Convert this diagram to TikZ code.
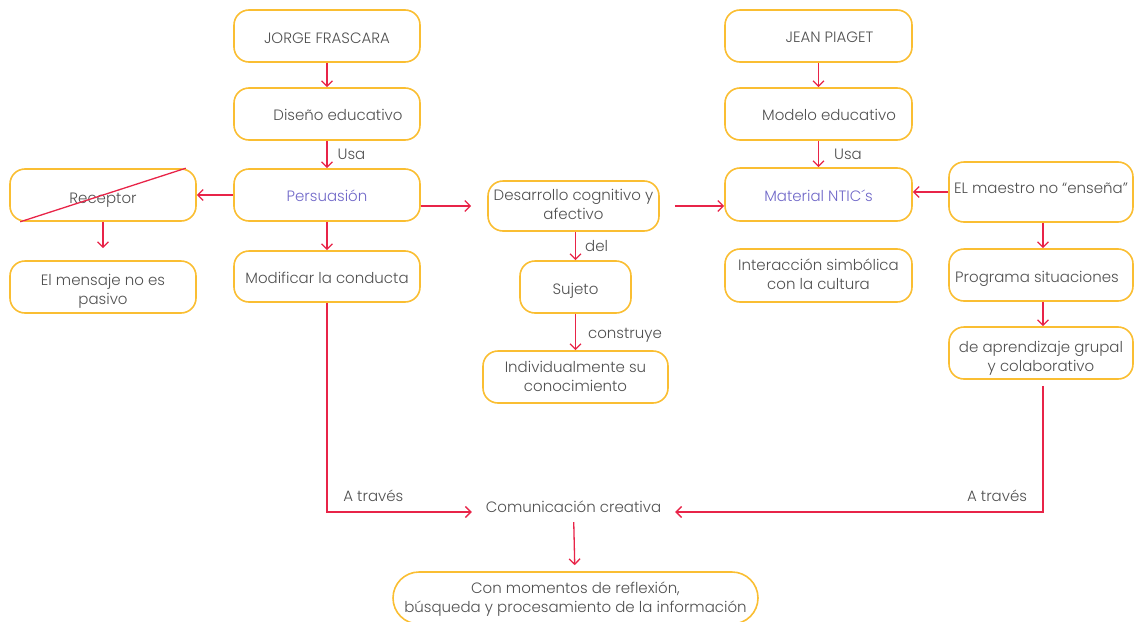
\documentclass[tikz,border=0pt]{standalone}
\usepackage{fontspec}
\setmainfont{Poppins Light}
\usetikzlibrary{arrows.meta}
\definecolor{boxc}{RGB}{250,190,50}
\definecolor{arr}{RGB}{232,36,72}
\definecolor{txt}{RGB}{80,80,80}
\definecolor{pur}{RGB}{112,104,200}
\begin{document}
\begin{tikzpicture}[x=1pt,y=-1pt,
  font=\fontsize{15}{19}\selectfont, text=txt,
  box/.style={draw=boxc, line width=1.6pt, rounded corners=15pt, minimum width=186pt, minimum height=52pt, align=center, inner sep=0pt, text height=14pt, text depth=0pt},
  off/.style={text height=#1, text depth=0pt},
  conn/.style={draw=arr, line width=1.3pt, -{Straight Barb[length=5.5pt,width=11pt,line width=1.3pt]}},
  elab/.style={text=txt, inner sep=0pt, anchor=west, xshift=#1},
  elab/.default=10pt
]
\useasboundingbox (0,0) rectangle (1134,621);
% left column
\node[box] (jf) at (327,36) {JORGE FRASCARA};
\node[box, off=12pt] (de) at (327,114) {\hspace{22pt}Diseño educativo};
\node[box, text=pur, off=13pt] (pe) at (327,195) {Persuasión};
\node[box, off=16pt] (re) at (103,195) {Receptor};
\node[box, off=34pt] (me) at (103,287) {El mensaje no es\\pasivo};
\node[box, minimum height=51pt, off=13pt] (mo) at (327,276.5) {Modificar la conducta};
% middle
\node[box, minimum width=171pt, minimum height=50pt, off=26pt] (dc) at (573.5,206) {Desarrollo cognitivo y\\afectivo};
\node[box, minimum width=111pt, off=14pt] (su) at (575.5,287) {Sujeto};
\node[box, minimum width=185pt, off=28pt] (in) at (575.5,377) {Individualmente su\\conocimiento};
% right
\node[box, minimum width=187pt, off=13pt] (jp) at (818.5,36) {\hspace{22pt}JEAN PIAGET};
\node[box, minimum width=187pt, off=12pt] (mo2) at (818.5,114) {\hspace{21pt}Modelo educativo};
\node[box, minimum width=187pt, minimum height=53pt, text=pur, off=13pt] (ma) at (818.5,194.5) {Material NTIC´s};
\node[box, minimum width=187pt, minimum height=53pt, off=27pt] (ic) at (818.5,275.5) {Interacción simbólica\\con la cultura};
\node[box, minimum width=184pt, minimum height=60pt, off=2pt] (em) at (1041,192) {EL maestro no “enseña”};
\node[box, minimum width=184pt, off=14pt] (ps) at (1041,275) {Programa situaciones\hspace{8pt}};
\node[box, minimum width=184pt, off=36pt] (ap) at (1041,353) {de aprendizaje grupal\\y colaborativo};
% bottom
\node[minimum width=203pt, minimum height=20pt, inner sep=0pt, text height=10pt, text depth=10pt] (cc) at (573.5,512) {Comunicación creativa};
\node[box, minimum width=365pt, minimum height=52pt, rounded corners=26pt, off=28pt] (fb) at (575.5,598) {Con momentos de reflexión,\\búsqueda y procesamiento de la información};
% connectors
\draw[conn] (jf) -- (de);
\draw[conn] (de) -- node[elab]{Usa} (pe);
\draw[conn] (pe) -- (re);
\draw[conn, shorten >=12pt] (re) -- (me);
\draw[conn] (pe) -- (mo);
\draw[draw=arr, line width=1.3pt] ([xshift=11pt]re.south west) -- ([xshift=-11pt]re.north east);
\draw[conn, shorten >=16pt] (pe.east |- dc.west) -- (dc.west);
\draw[conn, shorten <=15pt] (dc.east) -- (ma.west |- dc.east);
\draw[conn] (su.north |- dc.south) -- node[elab=9pt]{del} (su.north);
\draw[conn] (su) -- node[elab=12pt, pos=0.6]{construye} (in);
\draw[conn] (jp) -- (mo2);
\draw[conn] (mo2) -- node[elab=15pt]{Usa} (ma);
\draw[conn] (em.west) -- (ma.east |- em.west);
\draw[conn] ([xshift=2pt]em.south) -- ([xshift=2pt]ps.north);
\draw[conn] ([xshift=2pt]ps.south) -- ([xshift=2pt]ap.north);
\draw[conn] (mo) |- node[inner sep=0pt, above=10pt, pos=0.66]{A través} (cc.west);
\draw[conn, shorten <=6pt] ([xshift=2pt]ap.south) |- node[inner sep=0pt, above=10pt, pos=0.5625]{A través} (cc.east);
\draw[conn, shorten >=6pt] (cc) -- (fb);
\end{tikzpicture}
\end{document}
